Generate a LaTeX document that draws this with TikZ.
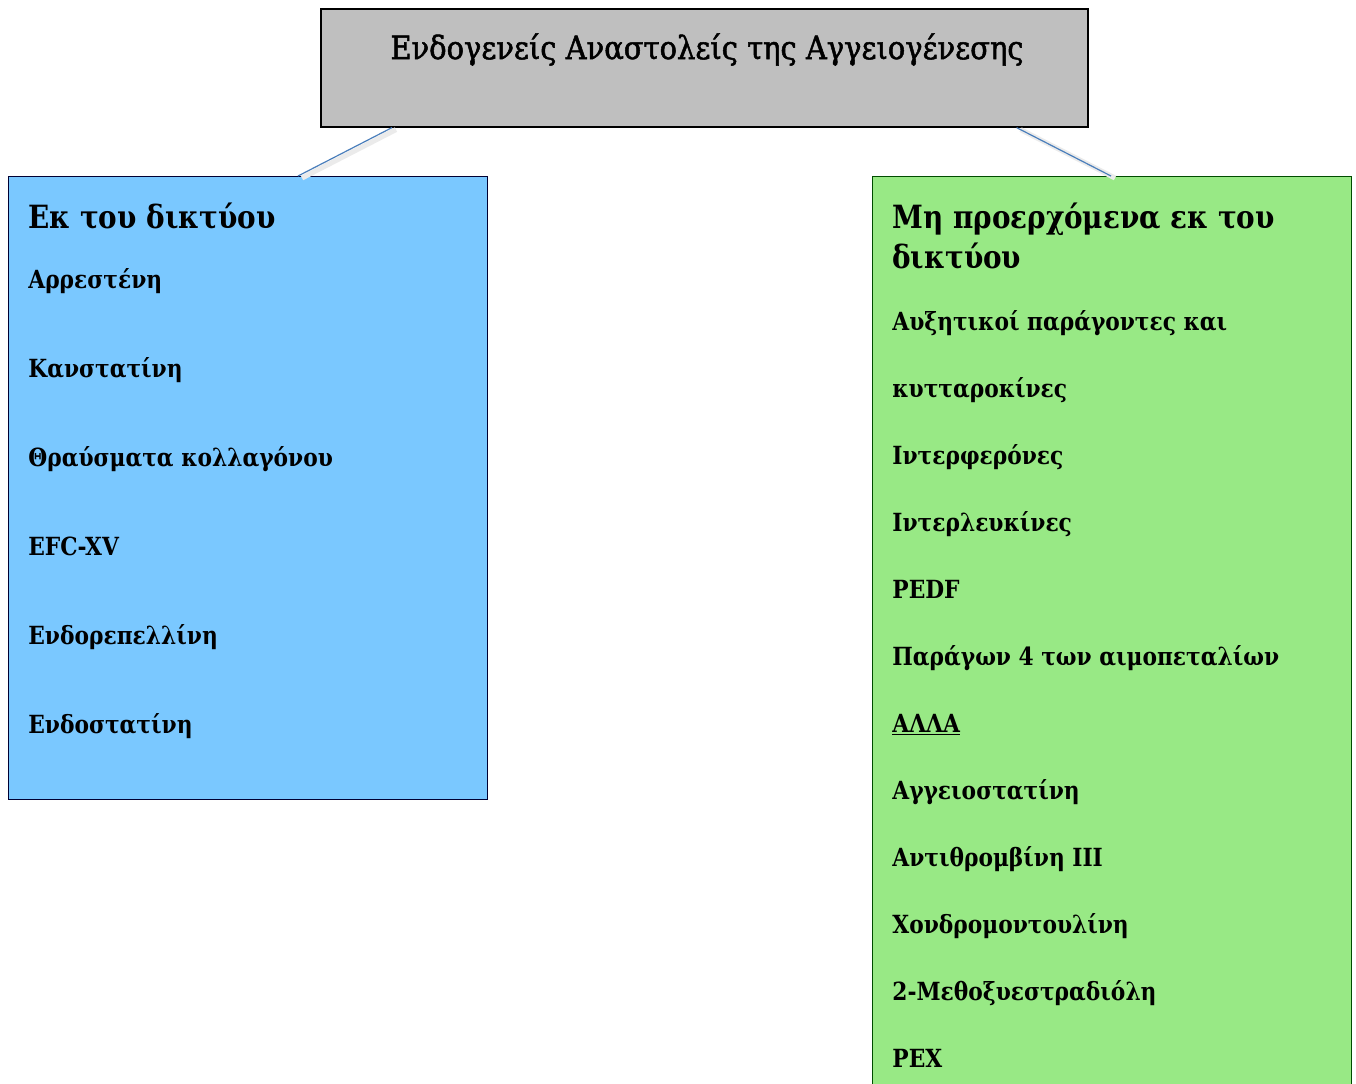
\documentclass[tikz,border=0pt]{standalone}
\usepackage{fontspec}
\setmainfont[FakeStretch=0.87]{DejaVu Serif}
\newfontfamily\titlefont[FakeStretch=0.905,FakeBold=1.6]{DejaVu Serif}
\definecolor{netblue}{HTML}{7AC8FF}
\definecolor{nonnetgreen}{HTML}{98E985}
\definecolor{titlegray}{HTML}{BFBFBF}
\definecolor{linkblue}{HTML}{4A7EBB}

\begin{document}
\begin{tikzpicture}[x=0.5pt,y=-0.5pt,
	box/.style={draw,anchor=north west,inner sep=0,line width=0.5pt},
	item/.style={anchor=base west,inner sep=0,font=\bfseries\fontsize{12.5}{15}\selectfont},
	head/.style={anchor=base west,inner sep=0,font=\bfseries\fontsize{16}{20}\selectfont},
	link/.style={draw=linkblue,line width=0.6pt},
	linkshadow/.style={draw=black!8,line width=2.5pt}]
			\useasboundingbox (0,0) rectangle (1356,1083);
			
			\node (title) [box,fill=titlegray,line width=0.8pt,minimum width=383.5pt,minimum height=59pt] at (320,8) {};
			\node (titletext) [anchor=base,inner sep=0,font=\titlefont\fontsize{16}{19}\selectfont] at (707,59) {Ενδογενείς Αναστολείς της Αγγειογένεσης};
			
			\node (net) [box,fill=netblue,draw=black!80!blue,minimum width=239.5pt,minimum height=311.5pt] at (8,176) {};
			\node (nonnet) [box,fill=nonnetgreen,draw=black!70!green,minimum width=239.5pt,minimum height=460pt] at (872,176) {};
			
			% connectors
			\draw [linkshadow] ([xshift=38pt,yshift=-1pt]title.south west) -- ([xshift=147pt,yshift=-1pt]net.north west);
			\draw [link] ([xshift=36pt]title.south west) -- ([xshift=145pt]net.north west);
			\draw [linkshadow] ([xshift=-34pt,yshift=-1pt]title.south east) -- ([xshift=-118.5pt,yshift=-1pt]nonnet.north east);
			\draw [link] ([xshift=-36pt]title.south east) -- ([xshift=-120.5pt]nonnet.north east);
			
			\node (nethead) [head] at (28,228) {Εκ του δικτύου};
			\foreach \txt [count=\i] in {Αρρεστένη,Κανστατίνη,Θραύσματα κολλαγόνου,EFC-XV,Ενδορεπελλίνη,Ενδοστατίνη}
				\node (net\i) [item] at (28,199+89*\i) {\txt};
			
			\node (nonnethead) [head] at (892,228) {Μη προερχόμενα εκ του};
			\node (nonnethead2) [head] at (892,268) {δικτύου};
			\foreach \txt [count=\i] in {Αυξητικοί παράγοντες και,κυτταροκίνες,Ιντερφερόνες,Ιντερλευκίνες,PEDF,Παράγων 4 των αιμοπεταλίων,{\underline{ΑΛΛΑ}},Αγγειοστατίνη,Αντιθρομβίνη III,Χονδρομοντουλίνη,2-Μεθοξυεστραδιόλη,PEX}
				\node (nonnet\i) [item] at (892,263+67*\i) {\txt};
\end{tikzpicture}
\end{document}
